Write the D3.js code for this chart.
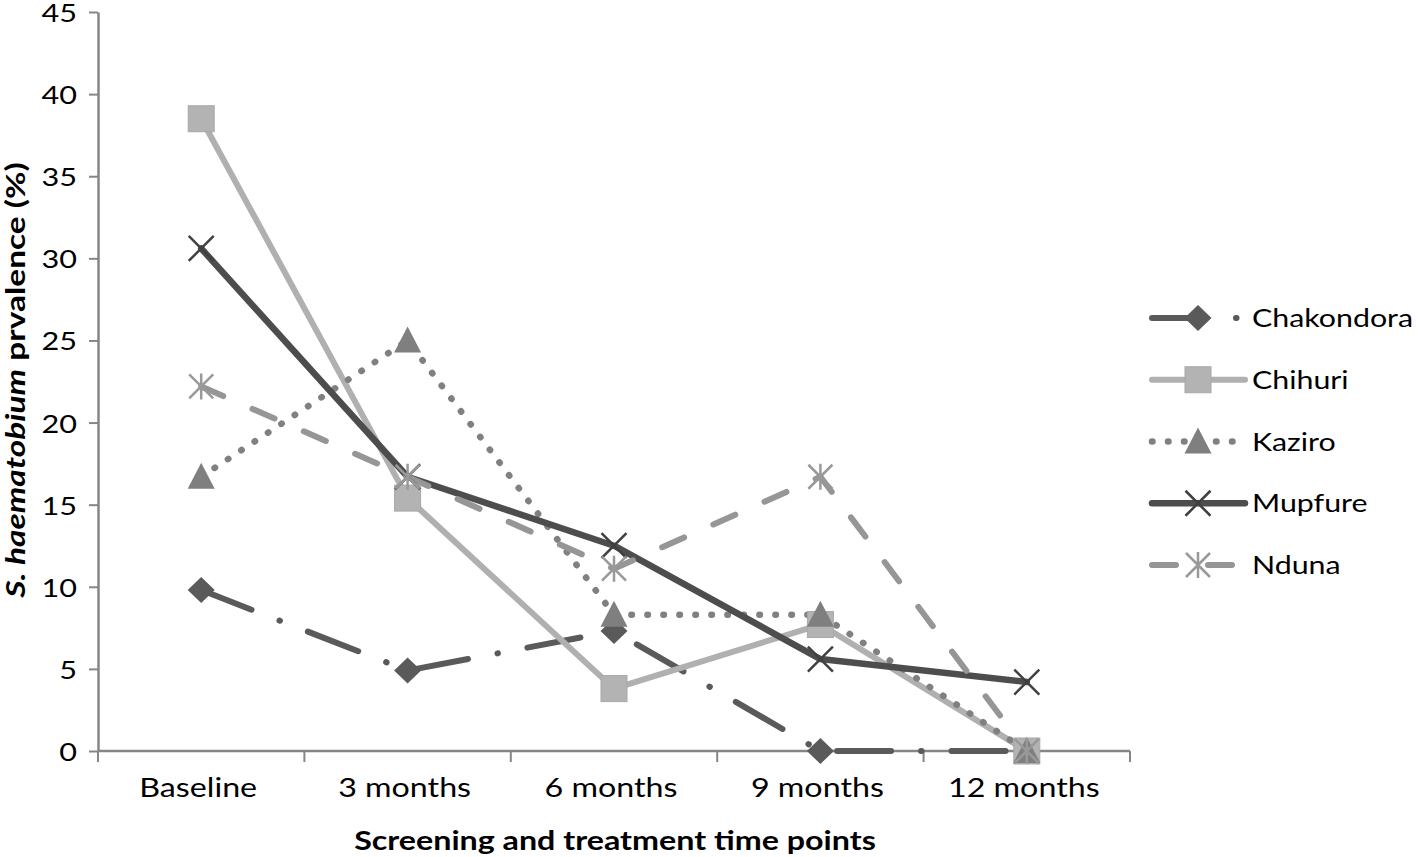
<!DOCTYPE html>
<html><head><meta charset="utf-8">
<script src="https://cdn.jsdelivr.net/npm/d3@7"></script>
<style>body{margin:0;background:#fff;} text{font-family:Lato,"Open Sans",sans-serif;}</style>
</head><body>
<svg id="c" width="1418" height="857"></svg>
<script>
const categories = ["Baseline","3 months","6 months","9 months","12 months"];
const seriesNames = ["Chakondora","Chihuri","Kaziro","Mupfure","Nduna"];
const chakondora = [9.8, 4.9, 7.3, 0, 0];
const chihuri = [38.5, 15.4, 3.8, 7.7, 0];
const kaziro = [16.7, 25.0, 8.3, 8.3, 0];
const mupfure = [30.6, 16.7, 12.5, 5.6, 4.2];
const nduna = [22.2, 16.7, 11.1, 16.7, 0];
const yTicks = [0,5,10,15,20,25,30,35,40,45];

const SX = 1.24; // horizontal text stretch
const svg = d3.select("#c");
const x = d3.scaleBand().domain(categories).range([98,1130]).padding(0);
const y = d3.scaleLinear().domain([0,45]).range([751,12]);
const axisColor = "#868686";

// Y axis
const gy = svg.append("g").attr("transform","translate(98,0)")
  .call(d3.axisLeft(y).tickValues(yTicks).tickSize(9).tickSizeOuter(0).tickPadding(0));
gy.select(".domain").attr("stroke",axisColor).attr("stroke-width",2.5);
gy.selectAll(".tick line").attr("stroke",axisColor).attr("stroke-width",2);
gy.selectAll(".tick text").attr("x",null).attr("dy",null)
  .attr("transform","translate(-21,9.5) scale(1.2,1)")
  .attr("font-size",25.5).attr("fill","#000").attr("font-family","Lato");

// X axis
const gx = svg.append("g").attr("transform","translate(0,751)");
gx.append("line").attr("x1",98).attr("x2",1130).attr("stroke",axisColor).attr("stroke-width",2.5);
const bounds = categories.map(c=>x(c)).concat([x(categories[categories.length-1])+x.bandwidth()]);
gx.selectAll(".xt").data(bounds).join("line").attr("class","xt")
  .attr("x1",d=>d).attr("x2",d=>d).attr("y1",0).attr("y2",11)
  .attr("stroke",axisColor).attr("stroke-width",2);
gx.selectAll(".xl").data(categories).join("text").attr("class","xl")
  .attr("transform",d=>"translate("+(x(d)+x.bandwidth()/2 - 3)+",46) scale("+SX+",1)")
  .attr("text-anchor","middle").attr("font-size",26).attr("fill","#000").text(d=>d);

// Axis titles
svg.append("text").attr("transform","translate(615,850) scale("+SX+",1)")
  .attr("text-anchor","middle").attr("font-size",26).attr("font-weight","bold").attr("fill","#000")
  .text("Screening and treatment time points");
const yt = svg.append("text").attr("transform","translate(25,380) rotate(-90) scale(1.24,1)")
  .attr("text-anchor","middle").attr("font-size",27).attr("font-weight","bold").attr("fill","#000");
yt.append("tspan").attr("font-style","italic").text("S. haematobium");
yt.append("tspan").text(" prvalence (%)");

const cx = i => x(categories[i]) + x.bandwidth()/2;
const styles = {
  Chakondora:{data:chakondora,color:"#5a5a5a",width:6,dash:"54,30,0.5,30",marker:"diamond",mcolor:"#5a5a5a"},
  Chihuri:{data:chihuri,color:"#b0b0b0",width:6,dash:null,marker:"square",mcolor:"#b3b3b3"},
  Kaziro:{data:kaziro,color:"#808080",width:6.5,dash:"0.5,15.5",marker:"triangle",mcolor:"#7f7f7f"},
  Mupfure:{data:mupfure,color:"#4d4d4d",width:6.5,dash:null,marker:"x",mcolor:"#404040"},
  Nduna:{data:nduna,color:"#969696",width:6,dash:"24,32",marker:"star",mcolor:"#999999"}
};

function drawMarker(g, type, color){
  if(type==="diamond"){
    g.append("path").attr("d","M0,-13L13.5,0L0,13L-13.5,0Z").attr("fill",color);
  } else if(type==="square"){
    g.append("rect").attr("x",-13).attr("y",-13).attr("width",26).attr("height",26)
      .attr("fill",color).attr("stroke","#a8a8a8").attr("stroke-width",1);
  } else if(type==="triangle"){
    g.append("path").attr("d","M0,-14L13.5,12L-13.5,12Z").attr("fill",color);
  } else if(type==="x"){
    g.append("path").attr("d","M-12.5,-12.5L12.5,12.5M-12.5,12.5L12.5,-12.5").attr("stroke",color).attr("stroke-width",2.5).attr("fill","none");
  } else if(type==="star"){
    g.append("path").attr("d","M-12,-12L12,12M-12,12L12,-12M0,-13L0,13").attr("stroke",color).attr("stroke-width",2.5).attr("fill","none");
  }
}

const line = d3.line().x((d,i)=>cx(i)).y(d=>y(d));
seriesNames.forEach(name=>{
  const s = styles[name];
  svg.append("path").datum(s.data).attr("d",line).attr("fill","none")
    .attr("stroke",s.color).attr("stroke-width",s.width)
    .attr("stroke-linecap","round").attr("stroke-linejoin","round")
    .attr("stroke-dasharray",s.dash);
});
seriesNames.forEach(name=>{
  const s = styles[name];
  s.data.forEach((v,i)=>{
    const g = svg.append("g").attr("transform","translate("+cx(i)+","+y(v)+")");
    drawMarker(g, s.marker, s.mcolor);
  });
});

// Legend
const legY = d3.scalePoint().domain(seriesNames).range([318,565]);
seriesNames.forEach(name=>{
  const s = styles[name];
  const ly = legY(name);
  svg.append("line").attr("x1",1152).attr("x2",1245).attr("y1",ly).attr("y2",ly)
    .attr("stroke",s.color).attr("stroke-width",s.width)
    .attr("stroke-linecap","round").attr("stroke-dasharray",s.dash);
  const g = svg.append("g").attr("transform","translate(1198,"+ly+")");
  drawMarker(g, s.marker, s.mcolor);
  svg.append("text").attr("transform","translate(1252,"+(ly+9)+") scale(1.19,1)")
    .attr("font-size",25.5).attr("fill","#000").text(name);
});
</script>
</body></html>
